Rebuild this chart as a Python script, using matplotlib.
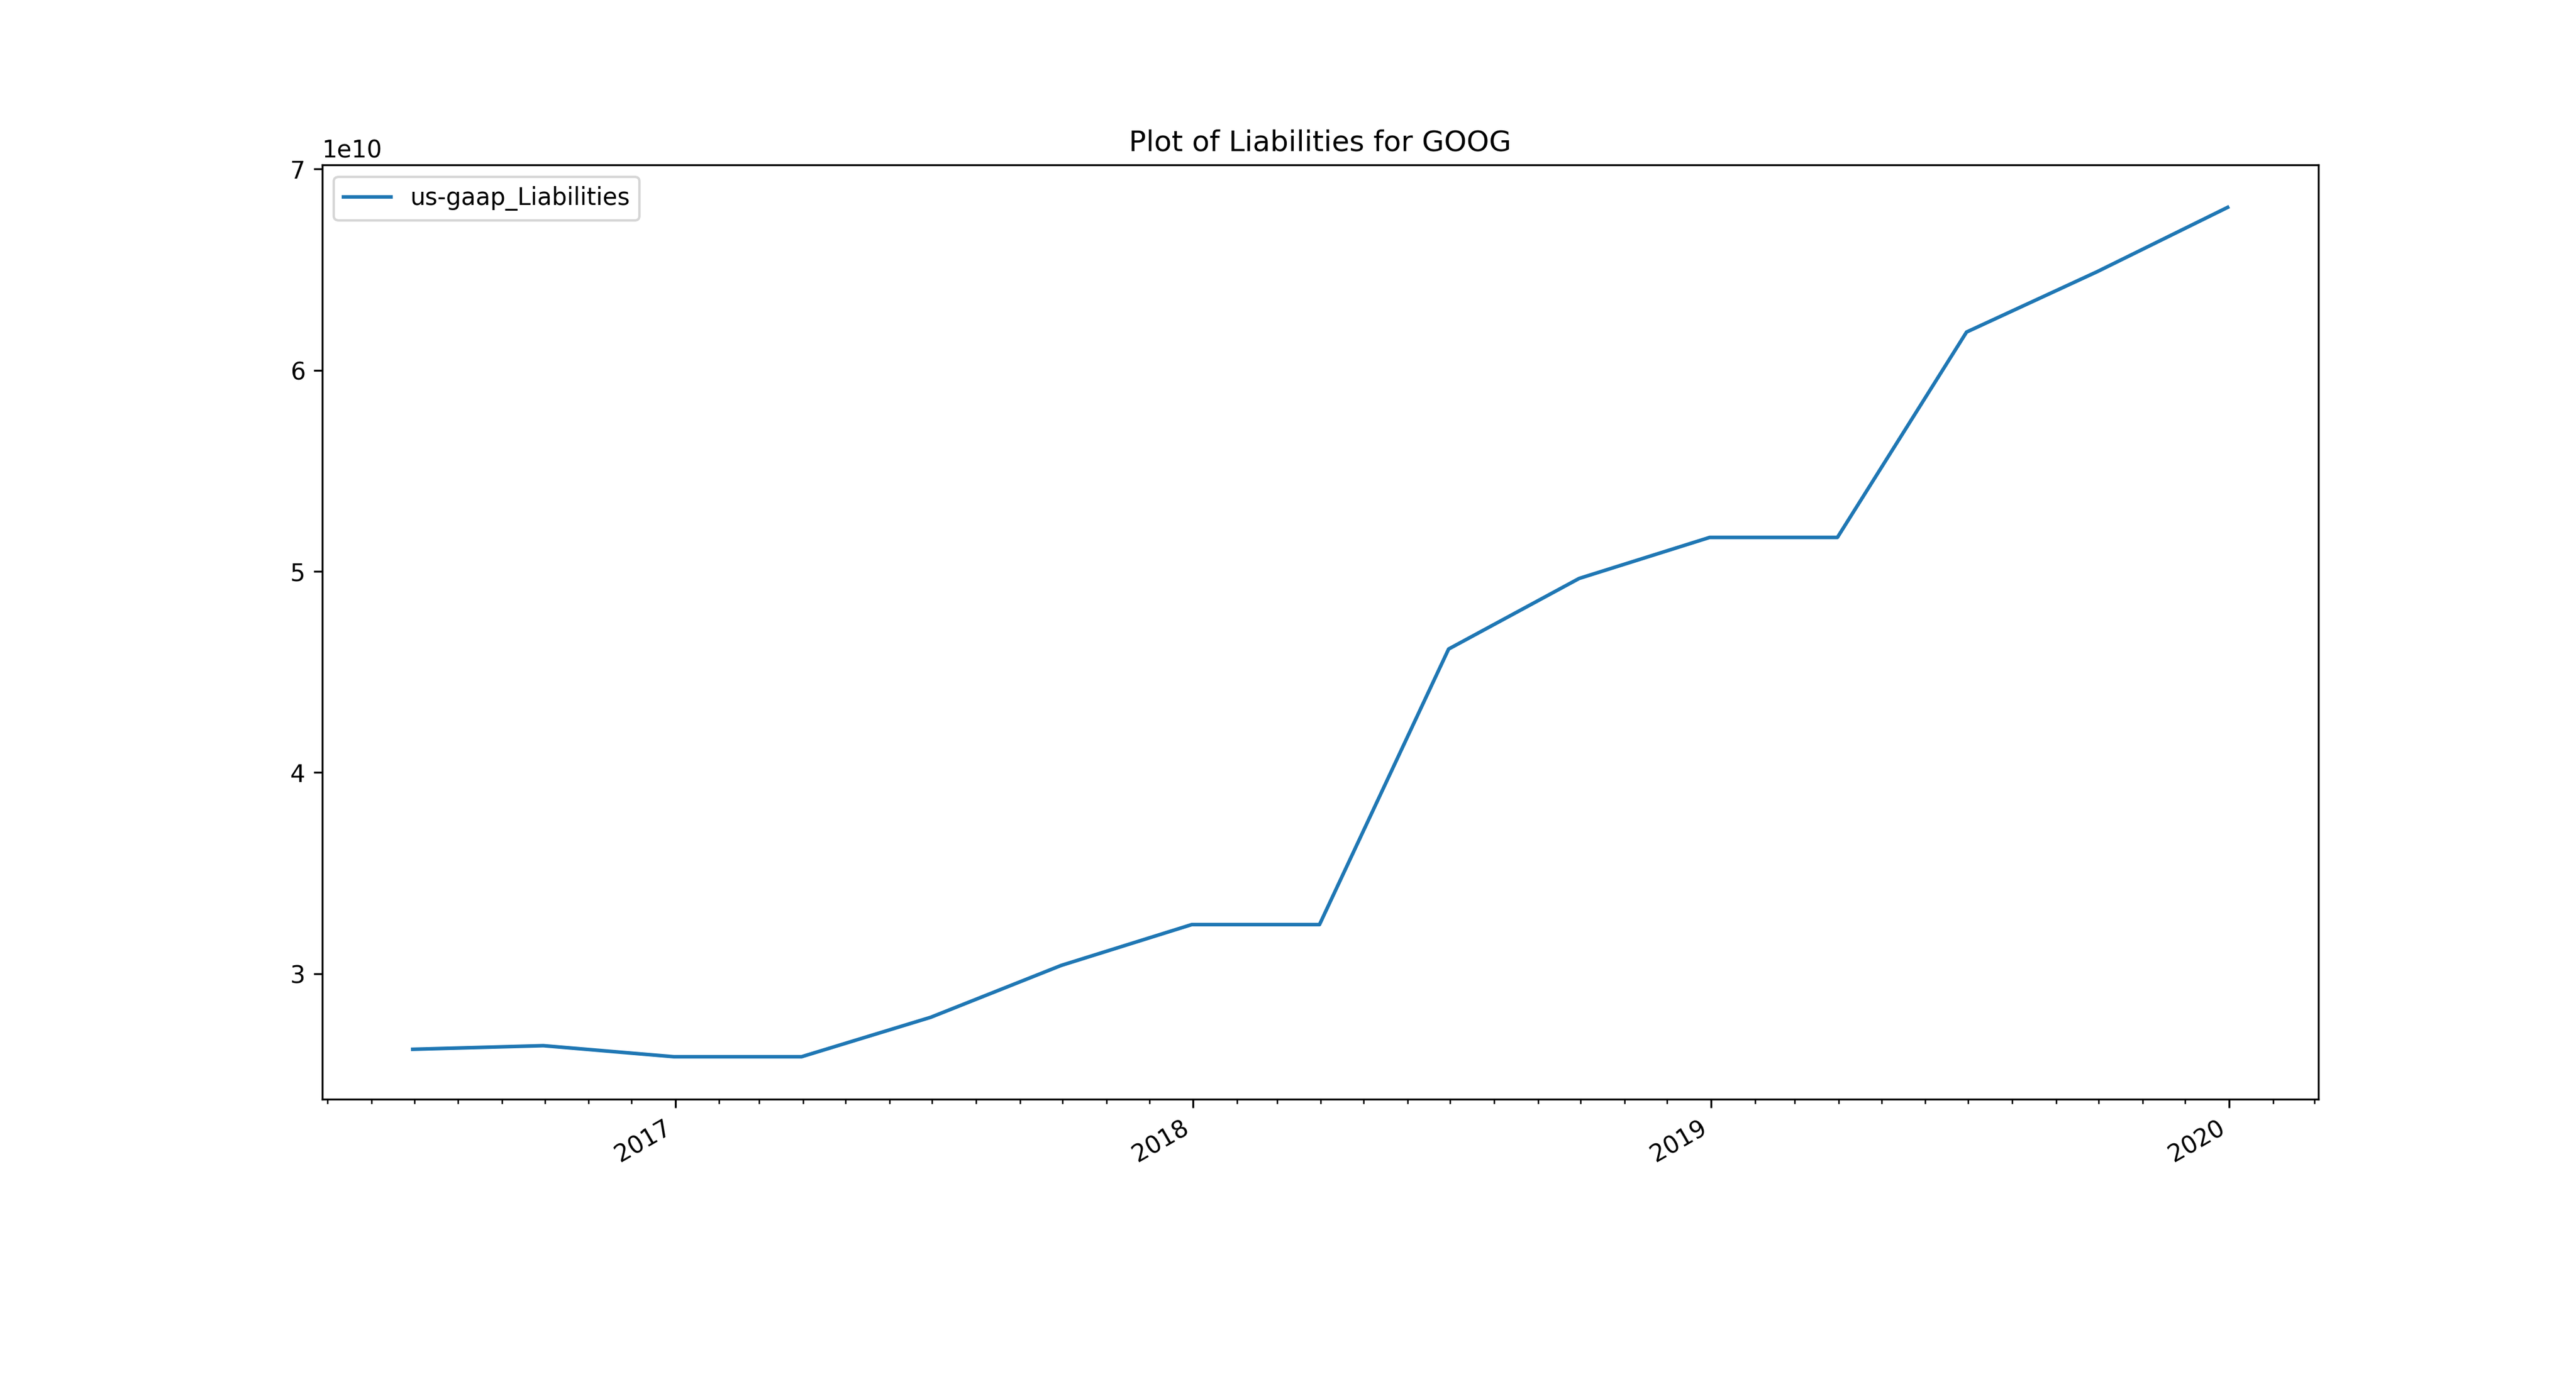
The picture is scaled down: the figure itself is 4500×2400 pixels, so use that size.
import matplotlib
matplotlib.use("Agg")
import matplotlib.pyplot as plt
import matplotlib.dates as mdates
import pandas as pd

dates = ["2016-06-30","2016-09-30","2016-12-31","2017-03-31","2017-06-30","2017-09-30",
         "2017-12-31","2018-03-31","2018-06-30","2018-09-30","2018-12-31","2019-03-31",
         "2019-06-30","2019-09-30","2019-12-31"]
liabilities = [2.624e10, 2.642e10, 2.587e10, 2.587e10, 2.783e10, 3.041e10, 3.244e10, 3.244e10,
               4.614e10, 4.965e10, 5.516e10 * 0 + 5.169e10, 5.169e10, 6.190e10, 6.490e10, 6.810e10]

x = pd.to_datetime(dates)
fig, ax = plt.subplots(figsize=(15, 8), dpi=300)
ax.plot(x, liabilities, label="us-gaap_Liabilities")
ax.set_title("Plot of Liabilities for GOOG")
ax.xaxis.set_major_locator(mdates.YearLocator())
ax.xaxis.set_major_formatter(mdates.DateFormatter("%Y"))
ax.xaxis.set_minor_locator(mdates.MonthLocator())
ax.legend(loc="upper left")
fig.autofmt_xdate()
fig.savefig("out.png")
